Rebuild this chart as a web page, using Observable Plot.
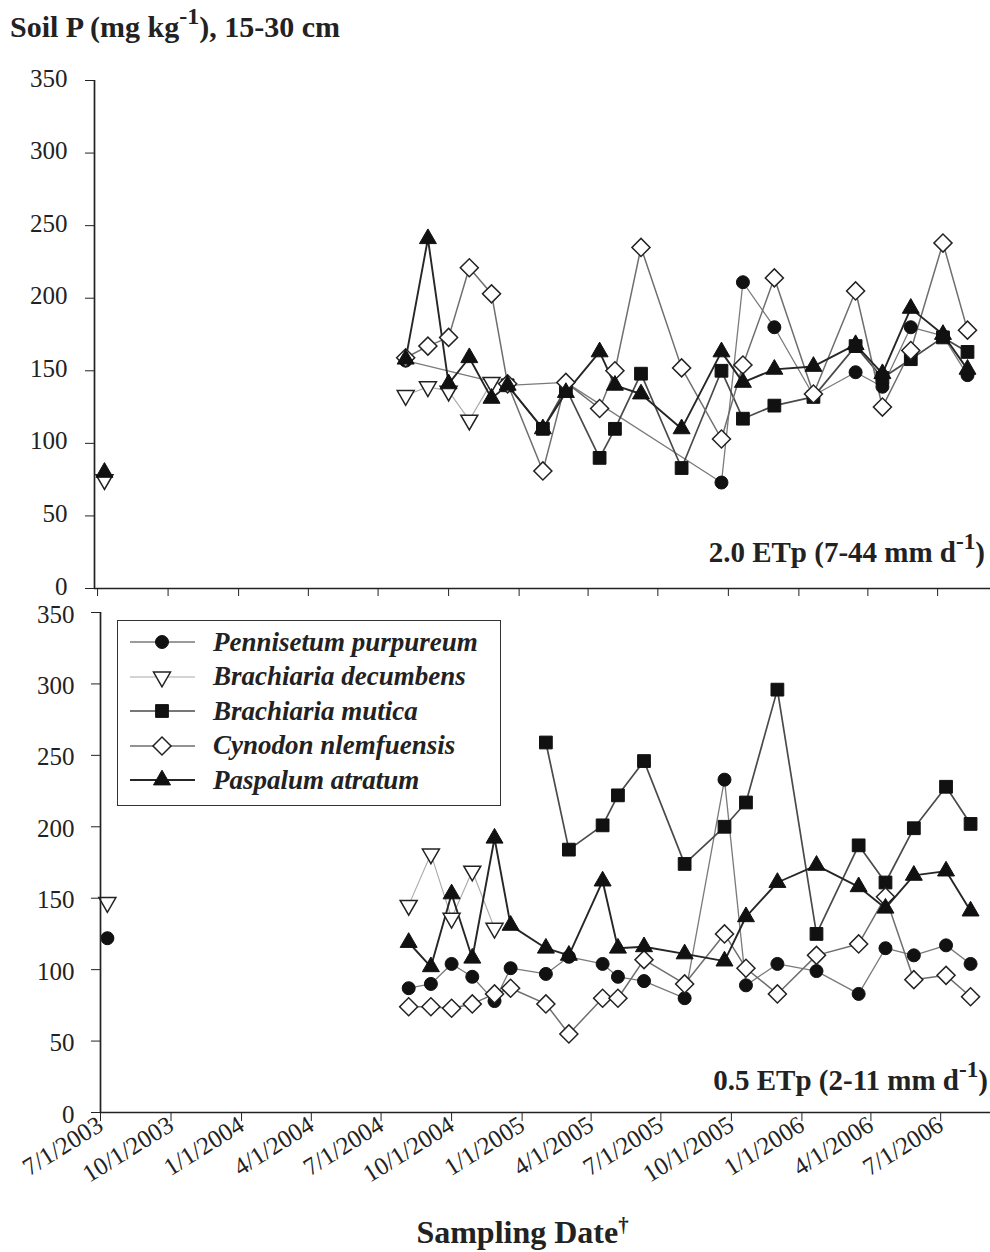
<!DOCTYPE html>
<html><head><meta charset="utf-8">
<script src="https://cdn.jsdelivr.net/npm/d3@7"></script>
<script src="https://cdn.jsdelivr.net/npm/@observablehq/plot@0.6"></script>
<style>
body{margin:0;background:#fff;}
#wrap{position:relative;width:990px;height:1252px;overflow:hidden;font-family:"Liberation Serif","Times New Roman",serif;color:#222;background:#fff;}
#wrap svg{overflow:visible;}
.abs{position:absolute;white-space:nowrap;line-height:1;}
.title{left:10px;top:12px;font-weight:bold;font-size:30px;}
sup{font-size:0.8em;vertical-align:0;position:relative;top:-0.55em;}
.plabel{font-weight:bold;font-size:29px;}
#legend{position:absolute;left:117px;top:620px;width:384px;height:186px;border:1.5px solid #333;background:#fff;box-sizing:border-box;}
.lrow{position:absolute;left:0;height:34px;display:flex;align-items:center;}
.lrow span{font-weight:bold;font-style:italic;font-size:27px;margin-left:13px;}
</style></head>
<body><div id="wrap">
<div class="abs title">Soil P (mg kg<sup>-1</sup>), 15-30 cm</div>
<div id="top" style="position:absolute;left:0;top:50px;"></div>
<div id="bottom" style="position:absolute;left:0;top:600px;"></div>
<div class="abs plabel" style="right:5px;top:538px;">2.0 ETp (7-44 mm d<sup>-1</sup>)</div>
<div class="abs plabel" style="right:2px;top:1066px;">0.5 ETp (2-11 mm d<sup>-1</sup>)</div>
<div id="legend"></div>
<div class="abs" style="left:0;width:1045px;text-align:center;top:1216px;font-weight:bold;font-size:32px;">Sampling Date<sup style="font-size:0.65em">†</sup></div>
</div>
<script>
// ---- data ----
const sampleDates = ["2003-07-10","2004-08-06","2004-09-04","2004-10-01","2004-10-28","2004-11-26","2004-12-17","2005-02-01","2005-03-03","2005-04-16","2005-05-06","2005-06-09","2005-08-01","2005-09-22","2005-10-20","2005-11-30","2006-01-20","2006-03-16","2006-04-20","2006-05-27","2006-07-08","2006-08-09"];
const tickDates = ["2003-07-01","2003-10-01","2004-01-01","2004-04-01","2004-07-01","2004-10-01","2005-01-01","2005-04-01","2005-07-01","2005-10-01","2006-01-01","2006-04-01","2006-07-01"];
const yTicks = [0,50,100,150,200,250,300,350];
const species = ["Pennisetum purpureum","Brachiaria decumbens","Brachiaria mutica","Cynodon nlemfuensis","Paspalum atratum"];

// 2.0 ETp panel
const highPennisetum = [null,157,null,null,null,null,140,null,142,null,null,null,null,73,211,180,133,149,139,180,174,147];
const highDecumbens  = [75,133,139,136,116,142,null,null,null,null,null,null,null,null,null,null,null,null,null,null,null,null];
const highMutica     = [null,null,null,null,null,null,140,110,138,90,110,148,83,150,117,126,132,167,145,158,173,163];
const highCynodon    = [null,159,167,173,221,203,141,81,142,124,150,235,152,103,154,214,134,205,125,164,238,178];
const highPaspalum   = [80,158,241,141,159,131,140,110,135,163,140,134,110,163,142,151,153,168,148,193,175,151];

// 0.5 ETp panel
const lowPennisetum = [122,87,90,104,95,78,101,97,109,104,95,92,80,233,89,104,99,83,115,110,117,104];
const lowDecumbens  = [147,145,181,136,169,129,null,null,null,null,null,null,null,null,null,null,null,null,null,null,null,null];
const lowMutica     = [null,null,null,null,null,null,null,259,184,201,222,246,174,200,217,296,125,187,161,199,228,202];
const lowCynodon    = [null,74,74,73,76,83,87,76,55,80,80,107,90,125,101,83,110,118,151,93,96,81];
const lowPaspalum   = [null,119,102,153,108,192,131,115,110,162,115,116,111,106,137,161,173,158,143,166,169,141];

// ---- styles ----
const triangleDown = {
  draw(ctx, size) {
    const s3 = Math.sqrt(3);
    const y = Math.sqrt(size / (s3 * 3));
    ctx.moveTo(0, y * 2);
    ctx.lineTo(-s3 * y, -y);
    ctx.lineTo(s3 * y, -y);
    ctx.closePath();
  }
};
const styles = [
  {line:"#7a7a7a", lw:1.3, symbol:"circle", fill:"#111", stroke:"#111", r:6.5, rotate:0},
  {line:"#aaaaaa", lw:1.1, symbol:triangleDown, fill:"#fff", stroke:"#222", r:6.3, rotate:0, sw:1.5},
  {line:"#4a4a4a", lw:1.7, symbol:"square", fill:"#111", stroke:"#111", r:7.2, rotate:0},
  {line:"#6e6e6e", lw:1.5, symbol:"square", fill:"#fff", stroke:"#222", r:7.2, rotate:45, sw:1.5},
  {line:"#262626", lw:1.9, symbol:"triangle", fill:"#111", stroke:"#111", r:6.3, rotate:0}
];

const fmt = d3.utcFormat("%-m/%-d/%Y");
const parse = s => new Date(s + "T00:00:00Z");

// the first (2003) sampling is shown as isolated points, not joined to the 2004-2006 series
function rowsOf(vals, from) {
  return sampleDates.map((d, j) => ({date: parse(d), value: vals[j], j}))
    .filter(r => r.value != null && r.j >= from);
}

function panel(series, cfg) {
  const marks = [];
  series.forEach((vals, i) => {
    marks.push(Plot.line(rowsOf(vals, 1), {x:"date", y:"value", stroke:styles[i].line, strokeWidth:styles[i].lw}));
  });
  series.forEach((vals, i) => {
    const s = styles[i];
    marks.push(Plot.dot(rowsOf(vals, 0), {x:"date", y:"value", symbol:s.symbol, r:s.r, fill:s.fill, stroke:s.stroke, strokeWidth:s.sw || 1, rotate:s.rotate}));
  });
  marks.push(Plot.ruleY([0], {stroke:"#222", strokeWidth:1.7}));
  marks.push(Plot.ruleX([cfg.xDomain[0]], {y1:0, y2:350, stroke:"#222", strokeWidth:1.7}));
  // tick lines
  marks.push(Plot.axisY(yTicks, {tickSize:9, tickFormat:() => "", label:null, stroke:"#222"}));
  // tick labels (nudged slightly so the two panels' 0 / 350 labels do not collide)
  marks.push(Plot.axisY(yTicks, {tickSize:0, tickPadding:cfg.pad + 9, fontSize:25, dy:cfg.ydy, label:null, tickFormat:d => d}));
  if (cfg.labels) {
    marks.push(Plot.axisX(tickDates.map(parse), {tickSize:9, tickPadding:1, tickRotate:-32, fontSize:25, tickFormat:fmt, label:null, stroke:"#222"}));
  } else {
    marks.push(Plot.axisX(tickDates.map(parse), {tickSize:8, tickFormat:() => "", label:null, stroke:"#222"}));
  }
  return Plot.plot({
    width: 990,
    height: cfg.height,
    marginTop: cfg.marginTop,
    marginBottom: cfg.marginBottom,
    marginLeft: cfg.marginLeft,
    marginRight: 0,
    x: {type:"utc", domain: cfg.xDomain},
    y: {domain:[0,350]},
    style: {fontFamily:"Liberation Serif, Times New Roman, serif", fontSize:"22px", color:"#222", background:"transparent", overflow:"visible"},
    marks
  });
}

document.getElementById("top").append(panel(
  [highPennisetum, highDecumbens, highMutica, highCynodon, highPaspalum],
  {height:560, marginTop:30, marginBottom:22, marginLeft:94, labels:false, pad:18, ydy:-2,
   xDomain:[parse("2003-06-27"), parse("2006-09-08")]}
));
document.getElementById("bottom").append(panel(
  [lowPennisetum, lowDecumbens, lowMutica, lowCynodon, lowPaspalum],
  {height:652, marginTop:12, marginBottom:140, marginLeft:100, labels:true, pad:17, ydy:2,
   xDomain:[parse("2003-07-01"), parse("2006-09-04")]}
));

// ---- legend ----
const legend = document.getElementById("legend");
species.forEach((name, i) => {
  const s = styles[i];
  const row = document.createElement("div");
  row.className = "lrow";
  row.style.top = (4 + i * 34.5) + "px";
  const ns = "http://www.w3.org/2000/svg";
  const svg = document.createElementNS(ns, "svg");
  svg.setAttribute("width", 82); svg.setAttribute("height", 34);
  const ln = document.createElementNS(ns, "line");
  ln.setAttribute("x1", 12); ln.setAttribute("x2", 77); ln.setAttribute("y1", 17); ln.setAttribute("y2", 17);
  ln.setAttribute("stroke", s.line); ln.setAttribute("stroke-width", s.lw);
  svg.append(ln);
  const p = document.createElementNS(ns, "path");
  const sym = typeof s.symbol === "string" ? ({circle:d3.symbolCircle, square:d3.symbolSquare, triangle:d3.symbolTriangle})[s.symbol] : s.symbol;
  p.setAttribute("d", d3.symbol(sym, Math.PI * s.r * s.r)());
  p.setAttribute("transform", `translate(44,17) rotate(${s.rotate})`);
  p.setAttribute("fill", s.fill); p.setAttribute("stroke", s.stroke); p.setAttribute("stroke-width", s.sw || 1);
  svg.append(p);
  row.append(svg);
  const t = document.createElement("span");
  t.textContent = name;
  row.append(t);
  legend.append(row);
});
</script>
</body></html>
